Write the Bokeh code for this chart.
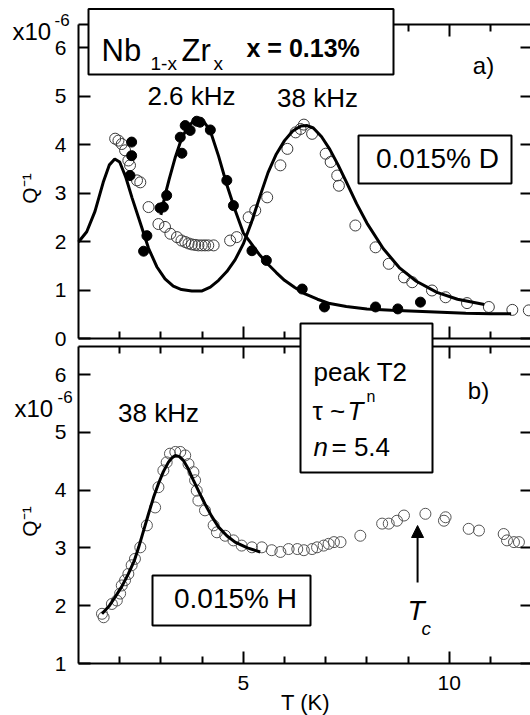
from bokeh.plotting import figure
from bokeh.models import (LinearAxis, FixedTicker, Range1d, Label, BoxAnnotation,
                          Arrow, NormalHead)
from bokeh.embed import file_html
from bokeh.resources import INLINE
import math

FONT = "Liberation Sans"

# ---------------- data: panel a) (Q^-1 in units of 1e-6, T in K) ----------------
fit38_a_T = [1.00, 1.20, 1.40, 1.60, 1.75, 1.88, 2.00, 2.15, 2.30, 2.50, 2.70, 2.90, 3.10, 3.30,
             3.50, 3.75, 4.00, 4.20, 4.40, 4.60, 4.80, 5.00, 5.20, 5.40, 5.60, 5.80, 6.00, 6.20,
             6.40, 6.55, 6.70, 6.90, 7.10, 7.30, 7.50, 7.75, 8.00, 8.40, 8.80, 9.20, 9.70, 10.20, 10.85]
fit38_a_Q = [1.99, 2.20, 2.62, 3.22, 3.58, 3.70, 3.64, 3.32, 2.90, 2.38, 1.86, 1.48, 1.23, 1.08,
             1.01, 0.98, 0.98, 1.06, 1.20, 1.38, 1.62, 1.95, 2.40, 2.92, 3.42, 3.80, 4.08, 4.28,
             4.38, 4.39, 4.34, 4.16, 3.90, 3.58, 3.23, 2.78, 2.38, 1.85, 1.45, 1.18, 0.95, 0.81, 0.70]

fit26_a_T = [3.00, 3.10, 3.20, 3.35, 3.50, 3.65, 3.80, 3.92, 4.05, 4.20, 4.40, 4.60, 4.80, 5.00,
             5.20, 5.40, 5.60, 5.80, 6.00, 6.25, 6.50, 6.80, 7.10, 7.50, 8.00, 8.60, 9.20, 9.80,
             10.40, 11.00, 11.50]
fit26_a_Q = [2.55, 2.95, 3.28, 3.74, 4.12, 4.36, 4.49, 4.52, 4.46, 4.28, 3.76, 3.17, 2.65, 2.18,
             1.95, 1.72, 1.53, 1.36, 1.20, 1.05, 0.92, 0.81, 0.72, 0.66, 0.61, 0.58, 0.56, 0.54,
             0.52, 0.51, 0.51]

data26_a_T = [2.29, 2.29, 2.25, 2.58, 2.66, 2.98, 3.06, 3.14, 3.47, 3.51, 3.59, 3.71, 3.87, 3.95,
              4.20, 4.60, 4.76, 5.21, 5.56, 6.43, 6.97, 8.21, 8.75, 9.30]
data26_a_Q = [4.05, 3.77, 3.36, 1.80, 2.12, 2.69, 2.71, 2.95, 4.15, 3.82, 4.39, 4.29, 4.48, 4.46,
              4.30, 3.26, 2.74, 1.81, 1.61, 1.02, 0.65, 0.65, 0.61, 0.75]

data38_a_T = [1.89, 1.97, 2.05, 2.13, 2.21, 2.25, 2.42, 2.50, 2.70, 2.94, 3.10, 3.23, 3.39, 3.50,
              3.59, 3.67, 3.75, 3.83, 3.91, 3.99, 4.07, 4.15, 4.28, 4.68, 4.84, 5.13, 5.29, 5.58,
              5.90, 6.07, 6.27, 6.39, 6.47, 6.67, 7.00, 7.12, 7.28, 7.32, 7.72, 8.21, 8.53, 8.90,
              9.10, 9.58, 9.91, 10.43, 10.96, 11.53, 11.93]
data38_a_Q = [4.12, 4.08, 4.01, 3.88, 3.67, 3.57, 3.26, 3.22, 2.71, 2.36, 2.30, 2.16, 2.09, 2.02,
              1.99, 1.96, 1.94, 1.93, 1.92, 1.92, 1.92, 1.92, 1.92, 2.02, 2.09, 2.50, 2.64, 2.91,
              3.57, 3.91, 4.25, 4.32, 4.41, 4.22, 3.81, 3.64, 3.36, 3.15, 2.33, 1.88, 1.54, 1.26,
              1.16, 0.99, 0.85, 0.73, 0.65, 0.59, 0.58]

# ---------------- data: panel b) ----------------
fit38_b_T = [1.57, 1.75, 1.89, 2.05, 2.21, 2.35, 2.46, 2.58, 2.70, 2.82, 2.94, 3.06, 3.18, 3.27,
             3.35, 3.45, 3.55, 3.67, 3.79, 3.93, 4.07, 4.23, 4.40, 4.60, 4.80, 5.10, 5.41]
fit38_b_Q = [1.86, 2.00, 2.15, 2.33, 2.55, 2.77, 3.01, 3.30, 3.59, 3.87, 4.11, 4.32, 4.48, 4.56,
             4.60, 4.58, 4.51, 4.36, 4.17, 3.96, 3.76, 3.55, 3.36, 3.21, 3.10, 3.00, 2.93]

data38_b_T = [1.57, 1.61, 1.81, 1.93, 2.01, 2.05, 2.13, 2.21, 2.29, 2.37, 2.50, 2.66, 2.86, 2.94,
              3.06, 3.14, 3.22, 3.35, 3.47, 3.59, 3.67, 3.79, 3.83, 3.87, 3.91, 4.07, 4.28, 4.36,
              4.56, 4.76, 4.96, 5.21, 5.45, 5.69, 5.90, 6.10, 6.31, 6.47, 6.67, 6.79, 6.95, 7.07,
              7.20, 7.36, 7.84, 8.37, 8.53, 8.73, 8.90, 9.42, 9.87, 9.91, 10.47, 10.72, 11.32,
              11.40, 11.57, 11.69]
data38_b_Q = [1.86, 1.80, 2.03, 2.09, 2.21, 2.35, 2.44, 2.55, 2.70, 2.81, 3.01, 3.39, 3.70, 4.05,
              4.34, 4.48, 4.63, 4.66, 4.66, 4.60, 4.45, 4.31, 4.17, 3.99, 3.82, 3.65, 3.39, 3.27,
              3.21, 3.13, 3.04, 3.01, 3.01, 2.96, 2.93, 2.98, 2.98, 2.96, 2.98, 3.01, 3.04, 3.07,
              3.10, 3.10, 3.21, 3.42, 3.42, 3.47, 3.56, 3.59, 3.47, 3.53, 3.33, 3.30, 3.24,
              3.13, 3.10, 3.10]

yticks_a = [0, 1, 2, 3, 4, 5, 6]
yticks_b = [1, 2, 3, 4, 5, 6]
xticks_major = [5, 10]
xticks_minor = [2, 3, 4, 6, 7, 8, 9, 11]
Tc_value = 9.23

# ---------------- layout geometry (canvas pixels) ----------------
W, H = 530, 715
X0, XPX = 78, 41.2            # pixel of T = 1 K, pixels per K
A_ZERO, A_PX = 338, 48.5      # panel a: pixel of Q = 0, pixels per unit
B_ONE, B_PX = 663, 57.8       # panel b: pixel of Q = 1, pixels per unit
A_TOP, B_TOP = 24, 346        # top edges of the two panels


def Tx(px):
    return 1 + (px - X0) / XPX


def Qa(py):
    return (A_ZERO - py) / A_PX


def Qb(py):
    return 1 + (B_ONE - py) / B_PX


p = figure(width=W, height=H,
           x_range=Range1d(Tx(0), Tx(W)), y_range=Range1d(Qa(H), Qa(0)),
           output_backend="svg", toolbar_location=None,
           x_axis_location=None, y_axis_location=None, min_border=0)
p.extra_y_ranges = {"b": Range1d(Qb(H), Qb(0))}
p.outline_line_color = None
p.xgrid.grid_line_color = None
p.ygrid.grid_line_color = None

X_LEFT, X_RIGHT = 1.0, Tx(532)


def axis(loc, ticks, minor, tick_in, fixed, bounds, yname="default", labels=False, line=True):
    ax = LinearAxis(ticker=FixedTicker(ticks=ticks, minor_ticks=minor),
                    fixed_location=fixed, bounds=bounds, y_range_name=yname)
    ax.axis_line_width = 2
    ax.axis_line_color = "black" if line else None
    ax.major_tick_line_width = 2
    ax.minor_tick_line_width = 2
    ax.major_tick_in = tick_in
    ax.major_tick_out = 0
    ax.minor_tick_in = tick_in
    ax.minor_tick_out = 0
    ax.major_label_text_font = FONT
    ax.major_label_text_color = "black"
    ax.major_label_text_font_size = "21px"
    ax.major_label_standoff = 12
    if labels:
        ax.minor_tick_in = 7
    p.add_layout(ax, loc)
    return ax


def panel_axes(yname, yticks, ybot, ytop, xlabels):
    yb = (ybot, ytop)
    xb = (X_LEFT, X_RIGHT)
    axis("left", yticks, [], 12, X_LEFT, yb, yname, labels=True)
    axis("right", [], yticks, 12, X_RIGHT, yb, yname)
    axis("above", [], xticks_major, 12, ytop, xb, yname)
    axis("above", [], xticks_minor, 7, ytop, xb, yname, line=False)
    if xlabels:
        axis("below", xticks_major, xticks_minor, 12, ybot, xb, yname, labels=True)
    else:
        axis("below", [], xticks_major, 12, ybot, xb, yname)
        axis("below", [], xticks_minor, 7, ybot, xb, yname, line=False)


panel_axes("default", yticks_a, 0, Qa(A_TOP), False)
panel_axes("b", yticks_b, 1, Qb(B_TOP), True)


def lab(x, y, text, size, align="left", baseline="alphabetic", style="normal",
        angle=0, yname="default"):
    p.add_layout(Label(x=x, y=y, text=text, text_font=FONT, text_font_size=f"{size}px",
                       text_align=align, text_baseline=baseline, text_font_style=style,
                       text_color="black", angle=angle, y_range_name=yname))


def box(x0, x1, y0, y1, yname="default"):
    p.add_layout(BoxAnnotation(left=x0, right=x1, bottom=y0, top=y1, y_range_name=yname,
                               fill_color="white", fill_alpha=1.0,
                               line_color="black", line_width=2, line_alpha=1.0))


# ---------------- panel a) marks ----------------
p.scatter(data38_a_T, data38_a_Q, size=11, marker="circle", fill_color=None,
          line_color="#3a3a3a", line_width=1)
p.scatter(data26_a_T, data26_a_Q, size=10, marker="circle", fill_color="black",
          line_color="black")
p.line(fit38_a_T, fit38_a_Q, line_color="black", line_width=3)
p.line(fit26_a_T, fit26_a_Q, line_color="black", line_width=3)

# ---------------- panel b) marks ----------------
p.scatter(data38_b_T, data38_b_Q, size=11, marker="circle", fill_color=None,
          line_color="#555555", line_width=1, y_range_name="b")
p.line(fit38_b_T, fit38_b_Q, line_color="black", line_width=3, y_range_name="b")

# ---------------- boxes ----------------
box(Tx(88), Tx(393), Qa(74), Qa(8.5))          # title box
box(Tx(358), Tx(511), Qa(183), Qa(135))        # 0.015% D
box(Tx(300), Tx(432), Qa(472), Qa(323))        # peak T2 (spans both panels)
box(Tx(152), Tx(310), Qb(625), Qb(575), "b")   # 0.015% H

# ---------------- panel a) texts ----------------
lab(Tx(101), Qa(50), "Nb", 31)
lab(Tx(150), Qa(63), "1-x", 19)
lab(Tx(181), Qa(50), "Zr", 31)
lab(Tx(213), Qa(63), "x", 19)
lab(Tx(246), Qa(47), "x = 0.13%", 25, style="bold")
lab(Tx(483), Qa(65), "a)", 24, align="center", baseline="middle")
lab(Tx(191), Qa(95), "2.6 kHz", 26, align="center", baseline="middle")
lab(Tx(317), Qa(97), "38 kHz", 26, align="center", baseline="middle")
lab(Tx(437), Qa(158), "0.015% D", 28, align="center", baseline="middle")
lab(Tx(12), Qa(31), "x10", 24, baseline="middle")
lab(Tx(54), Qa(19), "-6", 17, baseline="middle")
lab(Tx(29), Qa(188), "Q\u207b\u00b9", 21, align="center", baseline="middle", angle=math.pi / 2)

# ---------------- panel b) texts ----------------
lab(Tx(313), Qb(371), "peak T2", 26, yname="b")
lab(Tx(312), Qb(410), "\u03c4 ~", 26, yname="b")
lab(Tx(347), Qb(410), "T", 26, style="italic", yname="b")
lab(Tx(366), Qb(396), "n", 16, yname="b")
lab(Tx(313), Qb(446), "n", 26, style="italic", yname="b")
lab(Tx(331), Qb(446), "= 5.4", 26, yname="b")
lab(Tx(478), Qb(390), "b)", 24, align="center", baseline="middle", yname="b")
lab(Tx(158), Qb(412), "38 kHz", 26, align="center", baseline="middle", yname="b")
lab(Tx(235), Qb(598), "0.015% H", 28, align="center", baseline="middle", yname="b")
lab(Tx(407), Qb(610), "T", 28, style="italic", yname="b")
lab(Tx(421), Qb(628), "c", 19, style="italic", yname="b")
lab(Tx(14), Qb(408), "x10", 24, baseline="middle", yname="b")
lab(Tx(57), Qb(396), "-6", 17, baseline="middle", yname="b")
lab(Tx(29), Qb(521), "Q\u207b\u00b9", 21, align="center", baseline="middle",
    angle=math.pi / 2, yname="b")
lab(Tx(305), Qb(702), "T (K)", 22, align="center", baseline="middle", yname="b")

p.add_layout(Arrow(end=NormalHead(size=12, fill_color="black", line_color="black"),
                   x_start=Tc_value, y_start=Qb(582), x_end=Tc_value, y_end=Qb(525),
                   line_width=2, line_color="black", y_range_name="b"))

open("out.html", "w").write(file_html(p, INLINE))
